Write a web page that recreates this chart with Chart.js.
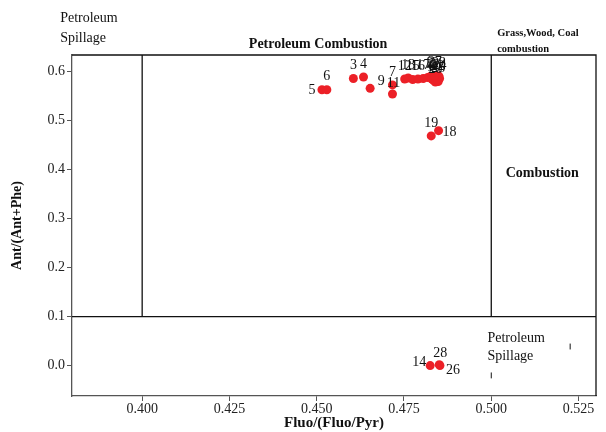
<!DOCTYPE html>
<html>
<head>
<meta charset="utf-8">
<script src="https://cdn.jsdelivr.net/npm/chart.js@4"></script>
<style>
  html, body { margin: 0; padding: 0; background: #fff; }
  #wrap { width: 606px; height: 432px; }
</style>
</head>
<body>
<div id="wrap"><canvas id="chart"></canvas></div>
<script>
// --- data ---
const sampleIds = [5, 6, 3, 4, 9, 7, 11, 12, 13, 15, 16, 17, 1, 2, 8, 10, 20, 21, 22, 23, 24, 25, 27, 19, 18, 14, 28, 26];
const fluoRatio = [0.4515, 0.4529, 0.4605, 0.4634, 0.4653, 0.4717, 0.4717, 0.4752, 0.4762, 0.4775, 0.4790, 0.4805,
  0.4818, 0.4825, 0.4830, 0.4835, 0.4840, 0.4843, 0.4846, 0.4850, 0.4852, 0.4848, 0.4838, 0.4828, 0.4849, 0.4825, 0.4851, 0.4853];
const antRatio = [0.563, 0.563, 0.586, 0.589, 0.566, 0.573, 0.5545, 0.585, 0.587, 0.584, 0.585, 0.586,
  0.588, 0.590, 0.585, 0.582, 0.579, 0.588, 0.584, 0.591, 0.586, 0.580, 0.592, 0.4688, 0.4796, 0.0, 0.002, 0.0];

const xTicks = [0.400, 0.425, 0.450, 0.475, 0.500, 0.525];
const yTicks = [0.0, 0.1, 0.2, 0.3, 0.4, 0.5, 0.6];

// source boundaries
const limitsX = [0.400, 0.500];
const limitY = 0.1;

// region captions (data coordinates)
const regionLabels = [
  { lines: ["Petroleum", "Spillage"], x: 0.3765, y: [0.708, 0.669], font: "14px 'Liberation Serif'", align: "left" },
  { lines: ["Petroleum Combustion"], x: 0.4504, y: [0.655], font: "bold 14px 'Liberation Serif'", align: "center" },
  { lines: ["Grass,Wood, Coal", "combustion"], x: 0.5017, y: [0.6776, 0.645], font: "bold 10.5px 'Liberation Serif'", align: "left" },
  { lines: ["Combustion"], x: 0.5146, y: [0.392], font: "bold 14px 'Liberation Serif'", align: "center" },
  { lines: ["Petroleum", "Spillage"], x: 0.4989, y: [0.055, 0.018], font: "14px 'Liberation Serif'", align: "left" },
];

// label offsets (px) for the numbered points, default is above
const labelOffset = {
  5: [-10, 1], 9: [11, -7], 11: [1, -11], 19: [0, -13], 18: [11, 2],
  14: [-11, -3], 28: [1, -11], 26: [13, 5],
};

const boxPlugin = {
  id: "box",
  afterDatasetsDraw(chart) {
    const { ctx, chartArea: a, scales: { x, y } } = chart;
    ctx.save();
    ctx.strokeStyle = "#111";
    ctx.lineWidth = 1.3;
    ctx.beginPath();
    // top and right frame
    ctx.moveTo(a.left, a.top); ctx.lineTo(a.right, a.top); ctx.lineTo(a.right, a.bottom);
    // boundaries
    limitsX.forEach((v) => {
      ctx.moveTo(x.getPixelForValue(v), a.top);
      ctx.lineTo(x.getPixelForValue(v), y.getPixelForValue(limitY));
    });
    ctx.moveTo(a.left, y.getPixelForValue(limitY));
    ctx.lineTo(a.right, y.getPixelForValue(limitY));
    ctx.stroke();

    // stray marks on the original figure
    ctx.lineWidth = 1;
    ctx.beginPath();
    ctx.moveTo(x.getPixelForValue(0.500), y.getPixelForValue(-0.014));
    ctx.lineTo(x.getPixelForValue(0.500), y.getPixelForValue(-0.026));
    ctx.moveTo(x.getPixelForValue(0.5226), y.getPixelForValue(0.045));
    ctx.lineTo(x.getPixelForValue(0.5226), y.getPixelForValue(0.033));
    ctx.stroke();

    // point numbers
    ctx.fillStyle = "#111";
    ctx.font = "14px 'Liberation Serif'";
    ctx.textAlign = "center";
    ctx.textBaseline = "middle";
    sampleIds.forEach((id, i) => {
      const off = labelOffset[id] || [0, -13];
      ctx.fillText(String(id), x.getPixelForValue(fluoRatio[i]) + off[0], y.getPixelForValue(antRatio[i]) + off[1]);
    });

    // region captions
    regionLabels.forEach((r) => {
      ctx.font = r.font;
      ctx.textAlign = r.align;
      r.lines.forEach((t, k) => ctx.fillText(t, x.getPixelForValue(r.x), y.getPixelForValue(r.y[k])));
    });
    ctx.restore();
  },
};

const ctx = document.getElementById("chart").getContext("2d");
new Chart(ctx, {
  type: "scatter",
  data: {
    datasets: [{
      data: fluoRatio.map((v, i) => ({ x: v, y: antRatio[i] })),
      backgroundColor: "#ec2027",
      borderWidth: 0,
      pointRadius: 4.5,
      pointHoverRadius: 4.5,
    }],
  },
  options: {
    responsive: true,
    maintainAspectRatio: false,
    animation: false,
    layout: { padding: { top: 55, right: 10, left: 0, bottom: 0 } },
    plugins: { legend: { display: false }, tooltip: { enabled: false } },
    scales: {
      x: {
        type: "linear",
        min: 0.3799,
        max: 0.530,
        afterBuildTicks: (s) => { s.ticks = xTicks.map((v) => ({ value: v })); },
        afterFit: (s) => { s.height = 36; },
        grid: { drawOnChartArea: false, tickLength: 5, color: "#555" },
        border: { color: "#555", width: 1.3 },
        ticks: {
          padding: 0,
          color: "#222",
          font: { family: "'Liberation Serif'", size: 14 },
          callback: (v) => v.toFixed(3),
        },
        title: {
          display: true,
          text: "Fluo/(Fluo/Pyr)",
          color: "#111",
          padding: { top: 0, bottom: 0 },
          font: { family: "'Liberation Serif'", size: 15, weight: "bold" },
        },
      },
      y: {
        type: "linear",
        min: -0.062,
        max: 0.634,
        afterBuildTicks: (s) => { s.ticks = yTicks.map((v) => ({ value: v })); },
        afterFit: (s) => { s.width = 72; },
        grid: { drawOnChartArea: false, tickLength: 5, color: "#555" },
        border: { color: "#555", width: 1.3 },
        ticks: {
          padding: 2,
          color: "#222",
          font: { family: "'Liberation Serif'", size: 14 },
          callback: (v) => v.toFixed(1),
        },
        title: {
          display: true,
          text: "Ant/(Ant+Phe)",
          color: "#111",
          padding: { top: 9, bottom: 0 },
          font: { family: "'Liberation Serif'", size: 14, weight: "bold" },
        },
      },
    },
  },
  plugins: [boxPlugin],
});
</script>
</body>
</html>
